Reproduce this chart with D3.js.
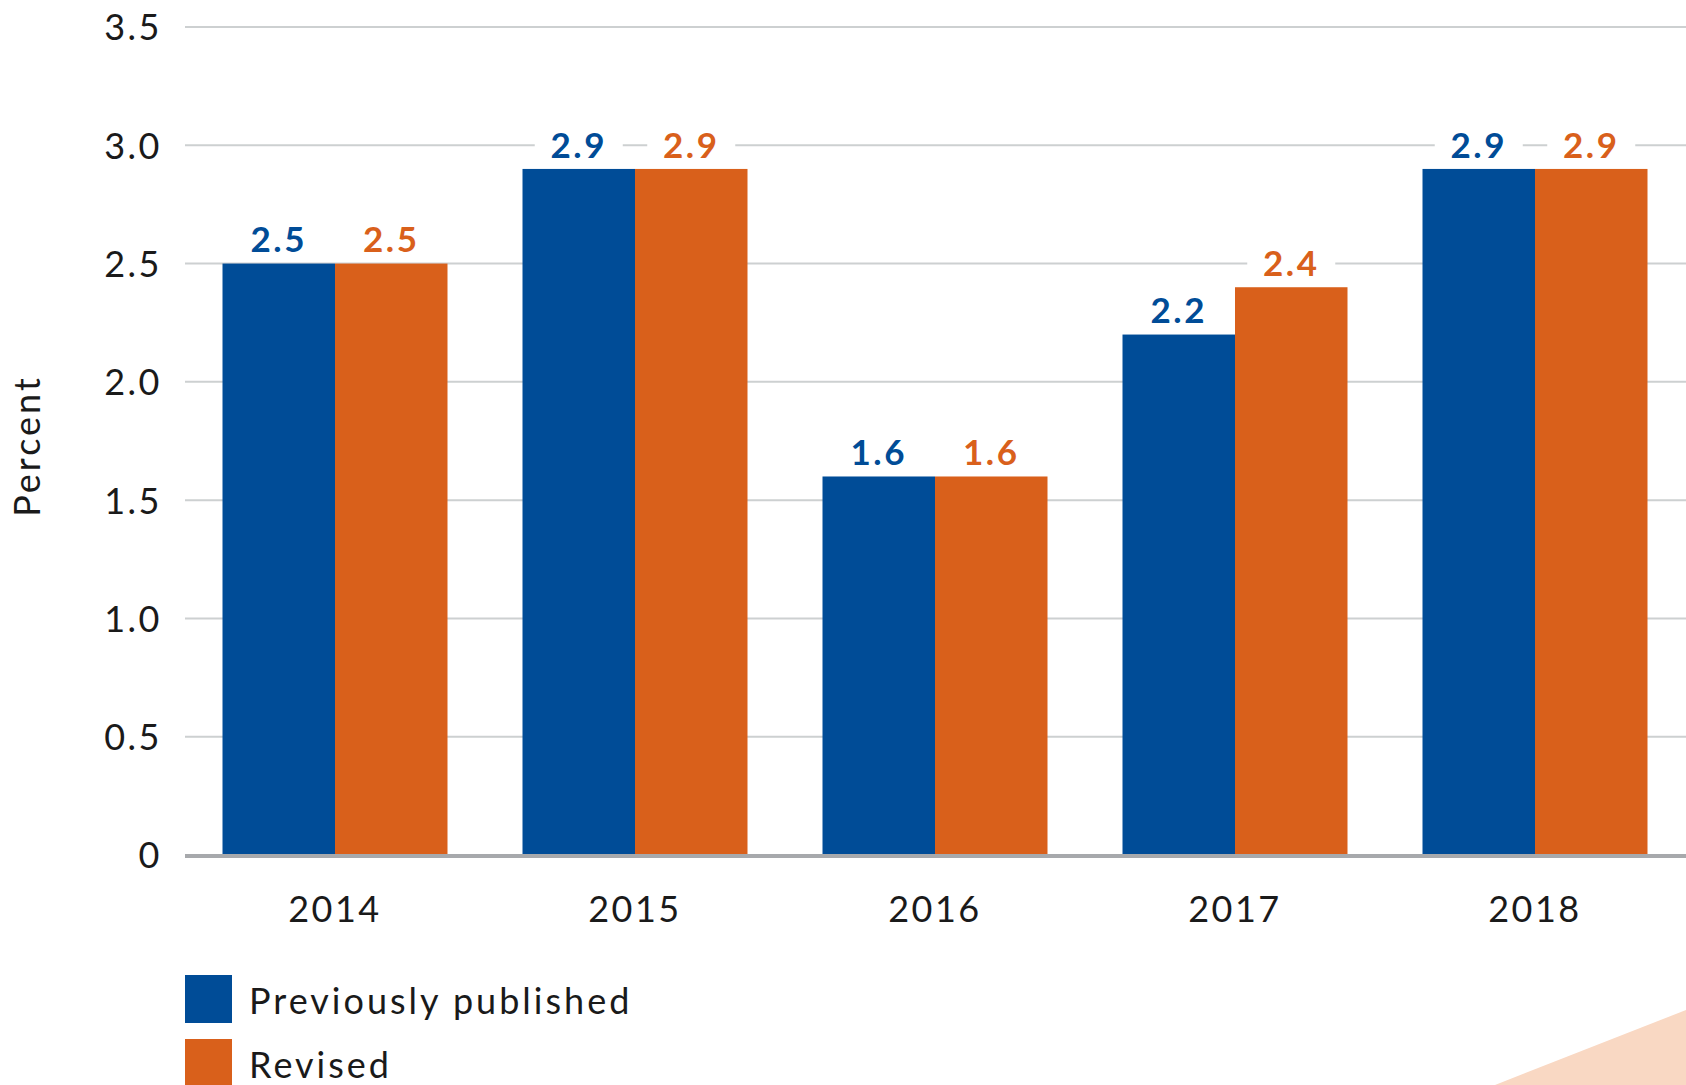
<!DOCTYPE html>
<html>
<head>
<meta charset="utf-8">
<script src="https://cdn.jsdelivr.net/npm/d3@7"></script>
<style>
  html, body { margin: 0; padding: 0; background: #ffffff; }
  svg { display: block; }
  text { font-family: Lato, "Open Sans", sans-serif; }
</style>
</head>
<body>
<svg id="chart" width="1686" height="1085"></svg>
<script>
// Real GDP growth by year: previously published vs. revised estimates
const years = ["2014", "2015", "2016", "2017", "2018"];
const previouslyPublished = [2.5, 2.9, 1.6, 2.2, 2.9];
const revised = [2.5, 2.9, 1.6, 2.4, 2.9];
const seriesNames = ["Previously published", "Revised"];
const yTicks = [0, 0.5, 1.0, 1.5, 2.0, 2.5, 3.0, 3.5];

const colors = { "Previously published": "#004c97", "Revised": "#d9601b" };

const svg = d3.select("#chart");
const W = 1686, H = 1085;

const x = d3.scaleBand().domain(years).range([185, 1685]).paddingInner(0.25).paddingOuter(0.125);
const xSub = d3.scaleBand().domain(seriesNames).range([0, x.bandwidth()]);
const y = d3.scaleLinear().domain([0, 3.5]).range([855, 27]);

// Horizontal gridlines
svg.append("g")
  .selectAll("line")
  .data(yTicks.filter(d => d > 0))
  .join("line")
  .attr("x1", 185).attr("x2", W)
  .attr("y1", d => y(d)).attr("y2", d => y(d))
  .attr("stroke", "#cdd0d1").attr("stroke-width", 2);

// Y axis tick labels
const yAxis = d3.axisLeft(y).tickValues(yTicks)
  .tickFormat(d => d === 0 ? "0" : d3.format(".1f")(d))
  .tickSize(0).tickPadding(0);
const gy = svg.append("g").attr("transform", "translate(162,0)").call(yAxis);
gy.select(".domain").remove();
gy.selectAll("text")
  .attr("font-size", 36).attr("fill", "#1a1a1a")
  .attr("font-family", "Lato, sans-serif")
  .attr("letter-spacing", 2.5)
  .attr("dy", "0.36em");

// Axis title
svg.append("text")
  .attr("transform", "translate(40,446) rotate(-90)")
  .attr("text-anchor", "middle")
  .attr("font-size", 36).attr("fill", "#1a1a1a")
  .attr("letter-spacing", 3)
  .text("Percent");

// Bars
const rows = years.map((yr, i) => ({
  year: yr,
  values: [
    { series: seriesNames[0], value: previouslyPublished[i] },
    { series: seriesNames[1], value: revised[i] }
  ]
}));

const groups = svg.append("g").selectAll("g")
  .data(rows).join("g")
  .attr("transform", d => `translate(${x(d.year)},0)`);

groups.selectAll("rect")
  .data(d => d.values).join("rect")
  .attr("x", d => xSub(d.series))
  .attr("width", xSub.bandwidth())
  .attr("y", d => y(d.value))
  .attr("height", d => y(0) - y(d.value))
  .attr("fill", d => colors[d.series]);

// Baseline
svg.append("line")
  .attr("x1", 185).attr("x2", W)
  .attr("y1", y(0) + 1).attr("y2", y(0) + 1)
  .attr("stroke", "#a7a9ac").attr("stroke-width", 4);

// X axis labels
const xAxis = d3.axisBottom(x).tickSize(0).tickPadding(0);
const gx = svg.append("g").attr("transform", `translate(0,${y(0)})`).call(xAxis);
gx.select(".domain").remove();
gx.selectAll("text")
  .attr("font-size", 36).attr("fill", "#1a1a1a")
  .attr("font-family", "Lato, sans-serif")
  .attr("letter-spacing", 2.5)
  .attr("dy", "1.86em");

// Value labels with white knockout behind them
const labels = groups.selectAll("g.lbl")
  .data(d => d.values).join("g").attr("class", "lbl")
  .attr("transform", d => `translate(${xSub(d.series) + xSub.bandwidth() / 2},${y(d.value) - 24})`);

labels.append("rect")
  .attr("x", -44).attr("y", -20).attr("width", 88).attr("height", 40)
  .attr("fill", "#ffffff");

labels.append("text")
  .attr("text-anchor", "middle")
  .attr("dy", "0.36em")
  .attr("font-size", 35).attr("font-weight", 700)
  .attr("letter-spacing", 2.5)
  .attr("fill", d => colors[d.series])
  .text(d => d3.format(".1f")(d.value));

// Legend
const legend = svg.append("g").selectAll("g")
  .data(seriesNames).join("g")
  .attr("transform", (d, i) => `translate(185,${975 + i * 64})`);
legend.append("rect")
  .attr("width", 47).attr("height", 48)
  .attr("fill", d => colors[d]);
legend.append("text")
  .attr("x", 64).attr("y", 26).attr("dy", "0.36em")
  .attr("font-size", 36).attr("fill", "#1a1a1a")
  .attr("letter-spacing", 3)
  .text(d => d);

// Decorative corner wedge
svg.append("polygon")
  .attr("points", `1495,${H} ${W},1010 ${W},${H}`)
  .attr("fill", "#f9d8c3");
</script>
</body>
</html>
